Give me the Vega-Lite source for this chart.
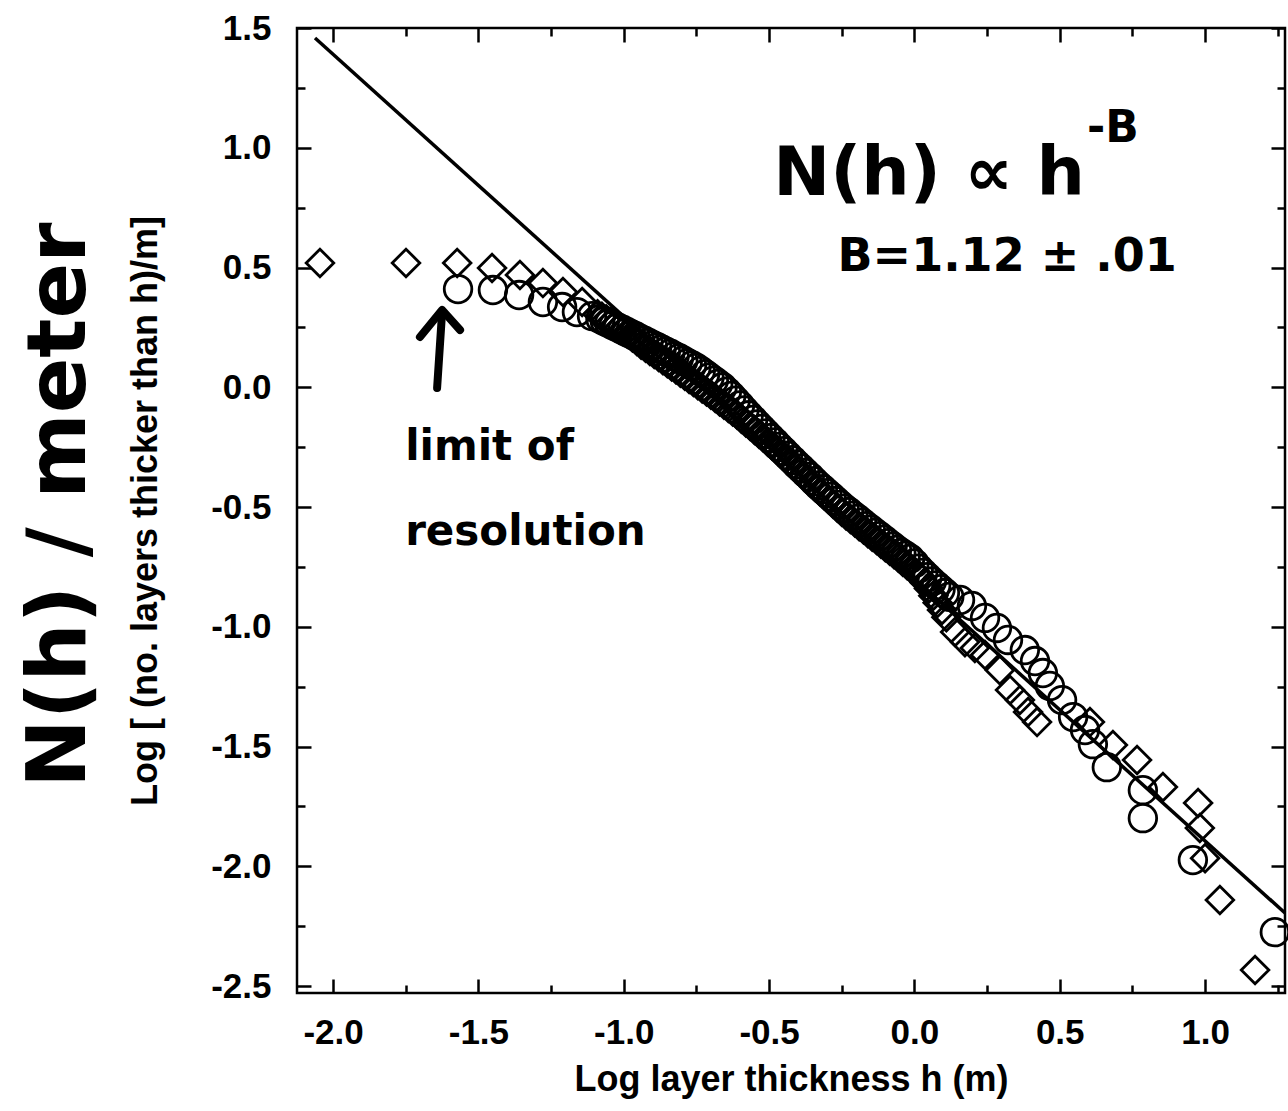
{
  "$schema": "https://vega.github.io/schema/vega-lite/v6.json",
  "width": 988,
  "height": 965,
  "autosize": "none",
  "padding": {"left": 297, "top": 28, "right": 3, "bottom": 118},
  "background": "white",
  "datasets": {
    "fit": [{"x": -2.062, "y": 1.458}, {"x": 1.275, "y": -2.195}],
    "diamonds": [
      {"x": -2.045, "y": 0.519}, {"x": -1.749, "y": 0.519}, {"x": -1.573, "y": 0.519}, {"x": -1.453, "y": 0.498},
      {"x": -1.357, "y": 0.469}, {"x": -1.278, "y": 0.435}, {"x": -1.209, "y": 0.398}, {"x": -1.143, "y": 0.356},
      {"x": -1.090, "y": 0.305}, {"x": -1.075, "y": 0.294}, {"x": -1.060, "y": 0.283}, {"x": -1.045, "y": 0.272},
      {"x": -1.030, "y": 0.260}, {"x": -1.015, "y": 0.249}, {"x": -1.000, "y": 0.238}, {"x": -0.985, "y": 0.223},
      {"x": -0.970, "y": 0.208}, {"x": -0.955, "y": 0.193}, {"x": -0.940, "y": 0.178}, {"x": -0.925, "y": 0.165},
      {"x": -0.910, "y": 0.152}, {"x": -0.895, "y": 0.139}, {"x": -0.880, "y": 0.126}, {"x": -0.865, "y": 0.113},
      {"x": -0.850, "y": 0.100}, {"x": -0.835, "y": 0.087}, {"x": -0.820, "y": 0.074}, {"x": -0.805, "y": 0.061},
      {"x": -0.790, "y": 0.048}, {"x": -0.775, "y": 0.035}, {"x": -0.760, "y": 0.022}, {"x": -0.745, "y": 0.009},
      {"x": -0.730, "y": -0.005}, {"x": -0.715, "y": -0.018}, {"x": -0.700, "y": -0.031}, {"x": -0.685, "y": -0.045},
      {"x": -0.670, "y": -0.059}, {"x": -0.655, "y": -0.073}, {"x": -0.640, "y": -0.087}, {"x": -0.625, "y": -0.101},
      {"x": -0.610, "y": -0.115}, {"x": -0.595, "y": -0.131}, {"x": -0.580, "y": -0.147}, {"x": -0.565, "y": -0.162},
      {"x": -0.550, "y": -0.178}, {"x": -0.535, "y": -0.194}, {"x": -0.520, "y": -0.210}, {"x": -0.505, "y": -0.227},
      {"x": -0.490, "y": -0.243}, {"x": -0.475, "y": -0.260}, {"x": -0.460, "y": -0.277}, {"x": -0.445, "y": -0.293},
      {"x": -0.430, "y": -0.310}, {"x": -0.415, "y": -0.328}, {"x": -0.400, "y": -0.346}, {"x": -0.385, "y": -0.364},
      {"x": -0.370, "y": -0.382}, {"x": -0.355, "y": -0.400}, {"x": -0.340, "y": -0.418}, {"x": -0.325, "y": -0.435},
      {"x": -0.310, "y": -0.452}, {"x": -0.295, "y": -0.469}, {"x": -0.280, "y": -0.486}, {"x": -0.265, "y": -0.503},
      {"x": -0.250, "y": -0.520}, {"x": -0.235, "y": -0.535}, {"x": -0.220, "y": -0.550}, {"x": -0.205, "y": -0.565},
      {"x": -0.190, "y": -0.580}, {"x": -0.175, "y": -0.594}, {"x": -0.160, "y": -0.609}, {"x": -0.145, "y": -0.624},
      {"x": -0.130, "y": -0.638}, {"x": -0.115, "y": -0.653}, {"x": -0.100, "y": -0.668}, {"x": -0.085, "y": -0.682},
      {"x": -0.070, "y": -0.697}, {"x": -0.055, "y": -0.712}, {"x": -0.040, "y": -0.728}, {"x": -0.025, "y": -0.743},
      {"x": -0.010, "y": -0.759}, {"x": 0.005, "y": -0.774}, {"x": 0.020, "y": -0.790}, {"x": 0.035, "y": -0.815},
      {"x": 0.050, "y": -0.840}, {"x": 0.065, "y": -0.870}, {"x": 0.080, "y": -0.900}, {"x": 0.095, "y": -0.930},
      {"x": 0.110, "y": -0.960}, {"x": 0.140, "y": -1.022}, {"x": 0.174, "y": -1.064}, {"x": 0.208, "y": -1.089},
      {"x": 0.243, "y": -1.118}, {"x": 0.294, "y": -1.181}, {"x": 0.329, "y": -1.264}, {"x": 0.363, "y": -1.306},
      {"x": 0.391, "y": -1.356}, {"x": 0.422, "y": -1.398}, {"x": 0.604, "y": -1.398}, {"x": 0.683, "y": -1.494},
      {"x": 0.766, "y": -1.556}, {"x": 0.855, "y": -1.669}, {"x": 0.976, "y": -1.736}, {"x": 0.982, "y": -1.840},
      {"x": 1.000, "y": -1.966}, {"x": 1.051, "y": -2.141}, {"x": 1.172, "y": -2.433}
    ],
    "circles": [
      {"x": -1.570, "y": 0.410}, {"x": -1.450, "y": 0.406}, {"x": -1.360, "y": 0.385}, {"x": -1.278, "y": 0.356},
      {"x": -1.212, "y": 0.335}, {"x": -1.161, "y": 0.314}, {"x": -1.109, "y": 0.297},
      {"x": -1.080, "y": 0.285}, {"x": -1.065, "y": 0.276}, {"x": -1.050, "y": 0.267}, {"x": -1.035, "y": 0.258},
      {"x": -1.020, "y": 0.249}, {"x": -1.005, "y": 0.240}, {"x": -0.990, "y": 0.231}, {"x": -0.975, "y": 0.222},
      {"x": -0.960, "y": 0.213}, {"x": -0.945, "y": 0.203}, {"x": -0.930, "y": 0.194}, {"x": -0.915, "y": 0.185},
      {"x": -0.900, "y": 0.176}, {"x": -0.885, "y": 0.167}, {"x": -0.870, "y": 0.158}, {"x": -0.855, "y": 0.149},
      {"x": -0.840, "y": 0.140}, {"x": -0.825, "y": 0.130}, {"x": -0.810, "y": 0.121}, {"x": -0.795, "y": 0.111},
      {"x": -0.780, "y": 0.101}, {"x": -0.765, "y": 0.091}, {"x": -0.750, "y": 0.081}, {"x": -0.735, "y": 0.068},
      {"x": -0.720, "y": 0.055}, {"x": -0.705, "y": 0.041}, {"x": -0.690, "y": 0.028}, {"x": -0.675, "y": 0.014},
      {"x": -0.660, "y": 0.000}, {"x": -0.645, "y": -0.018}, {"x": -0.630, "y": -0.036}, {"x": -0.615, "y": -0.056},
      {"x": -0.600, "y": -0.076}, {"x": -0.585, "y": -0.097}, {"x": -0.570, "y": -0.117}, {"x": -0.555, "y": -0.136},
      {"x": -0.540, "y": -0.155}, {"x": -0.525, "y": -0.174}, {"x": -0.510, "y": -0.193}, {"x": -0.495, "y": -0.212},
      {"x": -0.480, "y": -0.230}, {"x": -0.465, "y": -0.249}, {"x": -0.450, "y": -0.267}, {"x": -0.435, "y": -0.286},
      {"x": -0.420, "y": -0.304}, {"x": -0.405, "y": -0.322}, {"x": -0.390, "y": -0.339}, {"x": -0.375, "y": -0.357},
      {"x": -0.360, "y": -0.374}, {"x": -0.345, "y": -0.392}, {"x": -0.330, "y": -0.410}, {"x": -0.315, "y": -0.426},
      {"x": -0.300, "y": -0.442}, {"x": -0.285, "y": -0.458}, {"x": -0.270, "y": -0.475}, {"x": -0.255, "y": -0.491},
      {"x": -0.240, "y": -0.507}, {"x": -0.225, "y": -0.521}, {"x": -0.210, "y": -0.536}, {"x": -0.195, "y": -0.550},
      {"x": -0.180, "y": -0.565}, {"x": -0.165, "y": -0.580}, {"x": -0.150, "y": -0.594}, {"x": -0.135, "y": -0.608},
      {"x": -0.120, "y": -0.622}, {"x": -0.105, "y": -0.636}, {"x": -0.090, "y": -0.651}, {"x": -0.075, "y": -0.665},
      {"x": -0.060, "y": -0.679}, {"x": -0.045, "y": -0.692}, {"x": -0.030, "y": -0.703}, {"x": -0.015, "y": -0.716},
      {"x": 0.000, "y": -0.735}, {"x": 0.015, "y": -0.757}, {"x": 0.030, "y": -0.775}, {"x": 0.045, "y": -0.793},
      {"x": 0.060, "y": -0.811}, {"x": 0.075, "y": -0.827}, {"x": 0.090, "y": -0.843}, {"x": 0.105, "y": -0.859},
      {"x": 0.120, "y": -0.875}, {"x": 0.157, "y": -0.888}, {"x": 0.198, "y": -0.913}, {"x": 0.243, "y": -0.963},
      {"x": 0.284, "y": -1.005}, {"x": 0.322, "y": -1.055}, {"x": 0.380, "y": -1.097}, {"x": 0.415, "y": -1.143},
      {"x": 0.442, "y": -1.193}, {"x": 0.466, "y": -1.247}, {"x": 0.508, "y": -1.306}, {"x": 0.546, "y": -1.377},
      {"x": 0.587, "y": -1.431}, {"x": 0.614, "y": -1.490}, {"x": 0.662, "y": -1.586}, {"x": 0.786, "y": -1.682},
      {"x": 0.786, "y": -1.799}, {"x": 0.958, "y": -1.974}, {"x": 1.240, "y": -2.275}
    ],
    "arrow": [
      {"x": -1.642, "y": -0.003, "part": "stem", "o": 1},
      {"x": -1.625, "y": 0.310, "part": "stem", "o": 2},
      {"x": -1.701, "y": 0.210, "part": "head", "o": 1},
      {"x": -1.625, "y": 0.323, "part": "head", "o": 2},
      {"x": -1.563, "y": 0.239, "part": "head", "o": 3}
    ],
    "law": [{"x": 0.587, "y": 0.803, "t": "N(h) ∝ h"}],
    "sup": [{"x": 0.594, "y": 1.024, "t": "-B"}],
    "beta": [{"x": 0.319, "y": 0.544, "t": "B=1.12 ± .01"}],
    "limit": [
      {"x": -1.752, "y": -0.304, "t": "limit of"},
      {"x": -1.752, "y": -0.659, "t": "resolution"}
    ],
    "side": [{"x": -2.939, "y": -0.492, "t": "N(h) / meter"}]
  },
  "resolve": {"axis": {"x": "independent", "y": "independent"}},
  "layer": [
    {
      "data": {"name": "fit"},
      "mark": {"type": "line", "color": "black", "strokeWidth": 3.5},
      "encoding": {
        "x": {
          "field": "x", "type": "quantitative",
          "scale": {"domain": [-2.124, 1.275], "nice": false, "zero": false},
          "axis": {
            "orient": "bottom",
            "values": [-2, -1.5, -1, -0.5, 0, 0.5, 1],
            "tickSize": -14,
            "labelPadding": 36,
            "labelExpr": "replace(format(datum.value, '.1f'), '\u2212', '-')",
            "title": "Log layer thickness h (m)",
            "titlePadding": 12
          }
        },
        "y": {
          "field": "y", "type": "quantitative",
          "scale": {"domain": [-2.529, 1.5], "nice": false, "zero": false},
          "axis": {
            "orient": "left",
            "values": [-2.5, -2, -1.5, -1, -0.5, 0, 0.5, 1, 1.5],
            "tickSize": -14,
            "labelPadding": 40,
            "labelExpr": "replace(format(datum.value, '.1f'), '\u2212', '-')",
            "title": "Log [ (no. layers thicker than h)/m]",
            "titlePadding": 46
          }
        }
      }
    },
    {
      "data": {"name": "circles"},
      "mark": {"type": "point", "shape": "circle", "filled": false, "color": "black", "strokeWidth": 2.8, "size": 760, "opacity": 1},
      "encoding": {
        "x": {
          "field": "x", "type": "quantitative",
          "scale": {"domain": [-2.124, 1.275], "nice": false, "zero": false},
          "axis": {"orient": "bottom", "values": [-1.75, -1.25, -0.75, -0.25, 0.25, 0.75, 1.25], "tickSize": -8, "labels": false, "title": null}
        },
        "y": {
          "field": "y", "type": "quantitative",
          "scale": {"domain": [-2.529, 1.5], "nice": false, "zero": false},
          "axis": {"orient": "left", "values": [-2.25, -1.75, -1.25, -0.75, -0.25, 0.25, 0.75, 1.25], "tickSize": -8, "labels": false, "title": null}
        }
      }
    },
    {
      "data": {"name": "diamonds"},
      "mark": {"type": "point", "shape": "diamond", "filled": false, "color": "black", "strokeWidth": 2.8, "size": 760, "opacity": 1},
      "encoding": {
        "x": {"field": "x", "type": "quantitative", "scale": {"domain": [-2.124, 1.275], "nice": false, "zero": false}, "axis": null},
        "y": {"field": "y", "type": "quantitative", "scale": {"domain": [-2.529, 1.5], "nice": false, "zero": false}, "axis": null}
      }
    },
    {
      "data": {"name": "arrow"},
      "mark": {"type": "line", "color": "black", "strokeWidth": 8, "strokeCap": "round", "strokeJoin": "round"},
      "encoding": {
        "x": {
          "field": "x", "type": "quantitative",
          "scale": {"domain": [-2.124, 1.275], "nice": false, "zero": false},
          "axis": {"orient": "top", "values": [-2, -1.5, -1, -0.5, 0, 0.5, 1], "tickSize": -14, "labels": false, "title": null}
        },
        "y": {
          "field": "y", "type": "quantitative",
          "scale": {"domain": [-2.529, 1.5], "nice": false, "zero": false},
          "axis": {"orient": "right", "values": [-2.5, -2, -1.5, -1, -0.5, 0, 0.5, 1, 1.5], "tickSize": -14, "labels": false, "title": null}
        },
        "detail": {"field": "part", "type": "nominal"},
        "order": {"field": "o", "type": "quantitative"}
      }
    },
    {
      "data": {"name": "law"},
      "mark": {"type": "text", "font": "DejaVu Sans", "fontWeight": "bold", "fontSize": 68, "align": "right", "baseline": "alphabetic", "color": "black"},
      "encoding": {
        "x": {
          "field": "x", "type": "quantitative",
          "scale": {"domain": [-2.124, 1.275], "nice": false, "zero": false},
          "axis": {"orient": "top", "values": [-1.75, -1.25, -0.75, -0.25, 0.25, 0.75, 1.25], "tickSize": -8, "labels": false, "title": null}
        },
        "y": {
          "field": "y", "type": "quantitative",
          "scale": {"domain": [-2.529, 1.5], "nice": false, "zero": false},
          "axis": {"orient": "right", "values": [-2.25, -1.75, -1.25, -0.75, -0.25, 0.25, 0.75, 1.25], "tickSize": -8, "labels": false, "title": null}
        },
        "text": {"field": "t", "type": "nominal"}
      }
    },
    {
      "data": {"name": "sup"},
      "mark": {"type": "text", "font": "DejaVu Sans", "fontWeight": "bold", "fontSize": 44, "align": "left", "baseline": "alphabetic", "color": "black"},
      "encoding": {
        "x": {"field": "x", "type": "quantitative", "scale": {"domain": [-2.124, 1.275], "nice": false, "zero": false}, "axis": null},
        "y": {"field": "y", "type": "quantitative", "scale": {"domain": [-2.529, 1.5], "nice": false, "zero": false}, "axis": null},
        "text": {"field": "t", "type": "nominal"}
      }
    },
    {
      "data": {"name": "beta"},
      "mark": {"type": "text", "font": "DejaVu Sans", "fontWeight": "bold", "fontSize": 46, "align": "center", "baseline": "middle", "color": "black"},
      "encoding": {
        "x": {"field": "x", "type": "quantitative", "scale": {"domain": [-2.124, 1.275], "nice": false, "zero": false}, "axis": null},
        "y": {"field": "y", "type": "quantitative", "scale": {"domain": [-2.529, 1.5], "nice": false, "zero": false}, "axis": null},
        "text": {"field": "t", "type": "nominal"}
      }
    },
    {
      "data": {"name": "limit"},
      "mark": {"type": "text", "font": "DejaVu Sans", "fontWeight": "bold", "fontSize": 42, "align": "left", "baseline": "alphabetic", "color": "black"},
      "encoding": {
        "x": {"field": "x", "type": "quantitative", "scale": {"domain": [-2.124, 1.275], "nice": false, "zero": false}, "axis": null},
        "y": {"field": "y", "type": "quantitative", "scale": {"domain": [-2.529, 1.5], "nice": false, "zero": false}, "axis": null},
        "text": {"field": "t", "type": "nominal"}
      }
    },
    {
      "data": {"name": "side"},
      "mark": {"type": "text", "font": "DejaVu Sans", "fontWeight": "bold", "fontSize": 82, "align": "center", "baseline": "middle", "angle": 270, "color": "black"},
      "encoding": {
        "x": {"field": "x", "type": "quantitative", "scale": {"domain": [-2.124, 1.275], "nice": false, "zero": false}, "axis": null},
        "y": {"field": "y", "type": "quantitative", "scale": {"domain": [-2.529, 1.5], "nice": false, "zero": false}, "axis": null},
        "text": {"field": "t", "type": "nominal"}
      }
    }
  ],
  "config": {
    "view": {"stroke": "black", "strokeWidth": 2.5},
    "axis": {
      "domain": false,
      "grid": false,
      "tickColor": "black",
      "tickWidth": 2.5,
      "labelColor": "black",
      "labelFont": "Liberation Sans",
      "labelFontSize": 35,
      "labelFontWeight": "bold",
      "labelFlush": false,
      "labelOverlap": false,
      "titleColor": "black",
      "titleFont": "Liberation Sans",
      "titleFontSize": 36,
      "titleFontWeight": "bold"
    }
  }
}
